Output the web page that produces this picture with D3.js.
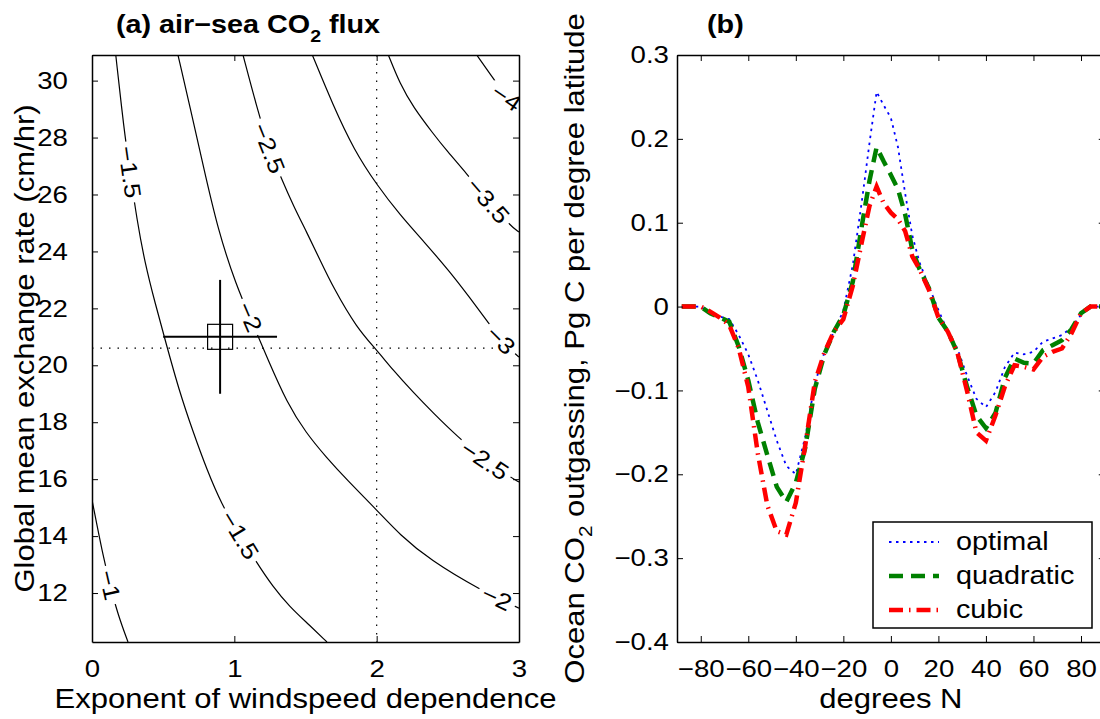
<!DOCTYPE html>
<html>
<head>
<meta charset="utf-8">
<script src="https://cdn.jsdelivr.net/npm/d3@7"></script>
<style>
  body { margin: 0; background: #fff; }
  svg text { font-family: "Liberation Sans", Arial, Helvetica, sans-serif; fill: #000; }
</style>
</head>
<body>
<svg id="fig" width="1100" height="719"></svg>
<script>
// ---- panel (a): contour lines traced as [exponent, exchange rate] pairs ----
const contourM1   = [[0,15.27],[0.035,14.39],[0.077,13.34],[0.126,12.28],[0.183,11.23],[0.253,10.28]];
const contourM15  = [[0.167,30.9],[0.225,28.27],[0.267,26.79],[0.316,25.1],[0.372,23.59],[0.443,22.19],[0.52,20.78],
                     [0.611,19.13],[0.71,17.66],[0.808,16.32],[0.913,15.09],[1.026,14.14],[1.145,13.16],[1.272,12.21],
                     [1.391,11.51],[1.511,10.95],[1.651,10.28]];
const contourM2   = [[0.604,30.9],[0.689,29.07],[0.78,27.04],[0.885,24.75],[1.012,22.82],[1.124,21.52],[1.237,20.19],
                     [1.37,18.68],[1.504,17.62],[1.644,16.78],[1.792,15.97],[2.0,14.92],[2.164,14.04],[2.375,13.16],
                     [2.726,12.11],[3.0,11.47]];
const contourM25  = [[1.061,30.9],[1.157,29.08],[1.244,27.63],[1.328,26.58],[1.419,25.56],[1.511,24.65],[1.602,23.7],
                     [1.693,22.75],[1.86,21.31],[2.0,20.54],[2.115,19.83],[2.255,19.06],[2.398,18.32],[2.562,17.52],
                     [2.761,16.67],[2.937,16.08],[3.0,15.9]];
const contourM3   = [[1.548,30.9],[1.693,29.14],[1.841,27.56],[2.002,26.33],[2.164,25.28],[2.34,24.3],[2.515,23.28],
                     [2.656,22.36],[2.782,21.52],[2.874,20.89],[2.958,20.47],[3.0,20.29]];
const contourM35  = [[2.082,30.9],[2.164,29.88],[2.258,29.06],[2.398,28.13],[2.492,27.54],[2.633,26.73],[2.784,25.79],
                     [2.937,24.91],[3.0,24.68]];
const contourM4   = [[2.703,30.9],[2.796,30.24],[2.914,29.41],[3.0,29.12]];

const contourLevels = [-1, -1.5, -2, -2.5, -3, -3.5, -4];
const contourPaths  = [contourM1, contourM15, contourM2, contourM25, contourM3, contourM35, contourM4];

// label positions: [level, exponent, exchange rate]
const contourLabels = [[-1,0.126,12.28],[-1.5,0.267,26.79],[-1.5,1.04,14.04],[-2,1.11,21.7],[-2,2.845,11.83],
                       [-2.5,1.244,27.63],[-2.5,2.761,16.67],[-3,2.874,20.89],[-3.5,2.784,25.79],[-4,2.914,29.41]];

const bestExponent = 0.9, bestRate = 21;
const exponentRange = [0.5, 1.3], rateRange = [19, 23];
const refExponent = 2, refRate = 20.6;

const xTicksA = [0, 1, 2, 3];
const yTicksA = [12, 14, 16, 18, 20, 22, 24, 26, 28, 30];

// ---- panel (b): ocean outgassing by latitude ----
const lat = [-88,-80,-76,-72,-68,-64,-60,-56,-52,-48,-44,-40,-36,-32,-28,-24,-20,-16,-12,-9,-6,-3,0,3,6,9,
             12,16,20,24,28,32,36,40,44,48,52,56,60,64,68,72,76,80,84,90];
const optimal   = [0,0,-0.008,-0.012,-0.015,-0.034,-0.057,-0.088,-0.124,-0.16,-0.19,-0.2,-0.155,-0.092,-0.055,-0.03,
                   -0.005,0.05,0.13,0.195,0.256,0.24,0.225,0.19,0.135,0.085,0.053,0.024,-0.004,-0.03,-0.05,-0.082,
                   -0.11,-0.12,-0.102,-0.072,-0.055,-0.057,-0.054,-0.042,-0.038,-0.034,-0.025,-0.01,0,0];
const quadratic = [0,0,-0.008,-0.013,-0.018,-0.048,-0.088,-0.138,-0.177,-0.215,-0.233,-0.21,-0.168,-0.098,-0.057,-0.03,
                   -0.01,0.03,0.1,0.15,0.19,0.173,0.157,0.14,0.11,0.068,0.045,0.022,-0.013,-0.03,-0.055,-0.095,
                   -0.13,-0.145,-0.127,-0.085,-0.062,-0.067,-0.068,-0.052,-0.046,-0.04,-0.027,-0.008,0,0];
const cubic     = [0,0,-0.006,-0.013,-0.022,-0.05,-0.096,-0.175,-0.237,-0.268,-0.272,-0.234,-0.165,-0.09,-0.055,-0.03,
                   -0.015,0.025,0.08,0.12,0.143,0.123,0.112,0.104,0.09,0.06,0.045,0.02,-0.013,-0.03,-0.055,-0.1,
                   -0.15,-0.16,-0.13,-0.095,-0.07,-0.072,-0.075,-0.06,-0.054,-0.05,-0.032,-0.008,0,0];
const seriesNames = ["optimal", "quadratic", "cubic"];

const xTicksB = [-80, -60, -40, -20, 0, 20, 40, 60, 80];
const yTicksB = [-0.4, -0.3, -0.2, -0.1, 0, 0.1, 0.2, 0.3];

// ---- drawing ----
const SX = 1.15; // horizontal stretch of the original figure's font
const svg = d3.select("#fig");

const A = {l: 92, r: 519, t: 55, b: 642};
const B = {l: 677, r: 1104.75, t: 55, b: 642};

const xA = d3.scaleLinear([0, 3], [A.l, A.r]);
const yA = d3.scaleLinear([10.28, 30.9], [A.b, A.t]);
const xB = d3.scaleLinear([-90, 90], [B.l, B.r]);
const yB = d3.scaleLinear([-0.4, 0.3], [B.b, B.t]);

function stretchedText(parent, x, y, rot) {
  return parent.append("g")
    .attr("transform", `translate(${x},${y})` + (rot ? ` rotate(${rot})` : "") + ` scale(${SX},1)`)
    .append("text");
}

function drawAxes(box, x, y, xt, yt, yPad, xFmt, yFmt) {
  const g = svg.append("g");
  const style = sel => {
    sel.attr("font-size", 24).attr("font-family", null);
    sel.select(".domain").attr("stroke-width", 1.5);
    sel.selectAll(".tick line").attr("stroke-width", 1);
    sel.selectAll(".tick text").attr("transform", `scale(${SX},1)`);
  };
  g.append("g").attr("transform", `translate(0,${box.b})`)
    .call(d3.axisBottom(x).tickValues(xt).tickSizeInner(-6).tickSizeOuter(0).tickPadding(18).tickFormat(xFmt))
    .call(style);
  g.append("g").attr("transform", `translate(0,${box.t})`)
    .call(d3.axisTop(x).tickValues(xt).tickSizeInner(-6).tickSizeOuter(0).tickFormat(""))
    .call(style);
  g.append("g").attr("transform", `translate(${box.l},0)`)
    .call(d3.axisLeft(y).tickValues(yt).tickSizeInner(-6).tickSizeOuter(0).tickPadding(yPad).tickFormat(yFmt))
    .call(style);
  g.append("g").attr("transform", `translate(${box.r},0)`)
    .call(d3.axisRight(y).tickValues(yt).tickSizeInner(-6).tickSizeOuter(0).tickFormat(""))
    .call(style);
}

// clip paths
const defs = svg.append("defs");
defs.append("clipPath").attr("id", "clipA").append("rect")
  .attr("x", A.l).attr("y", A.t).attr("width", A.r - A.l).attr("height", A.b - A.t);
defs.append("clipPath").attr("id", "clipB").append("rect")
  .attr("x", B.l).attr("y", B.t).attr("width", B.r - B.l).attr("height", B.b - B.t);

// ===== panel (a) =====
const pa = svg.append("g").attr("clip-path", "url(#clipA)");

// reference dotted lines
pa.append("line").attr("x1", xA(refExponent)).attr("x2", xA(refExponent))
  .attr("y1", A.t).attr("y2", A.b)
  .attr("stroke", "#000").attr("stroke-width", 1.2).attr("stroke-dasharray", "1.5,7");
pa.append("line").attr("x1", A.l).attr("x2", A.r)
  .attr("y1", yA(refRate)).attr("y2", yA(refRate))
  .attr("stroke", "#000").attr("stroke-width", 1.2).attr("stroke-dasharray", "1.5,7");

const contourLine = d3.line().x(d => xA(d[0])).y(d => yA(d[1])).curve(d3.curveBasis);
pa.selectAll(".contour")
  .data(contourPaths)
  .join("path")
  .attr("class", "contour")
  .attr("d", contourLine)
  .attr("fill", "none")
  .attr("stroke", "#000")
  .attr("stroke-width", 1.2);

// contour labels, oriented along the line
contourLabels.forEach(([lev, cx, cy]) => {
  const pts = contourPaths[contourLevels.indexOf(lev)].map(p => [xA(p[0]), yA(p[1])]);
  const px = xA(cx), py = yA(cy);
  let best = 0, bd = Infinity;
  for (let i = 0; i < pts.length - 1; i++) {
    const mx = (pts[i][0] + pts[i + 1][0]) / 2, my = (pts[i][1] + pts[i + 1][1]) / 2;
    const d = (mx - px) ** 2 + (my - py) ** 2;
    if (d < bd) { bd = d; best = i; }
  }
  let ang = Math.atan2(pts[best + 1][1] - pts[best][1], pts[best + 1][0] - pts[best][0]) * 180 / Math.PI;
  if (ang > 90) ang -= 180;
  if (ang < -90) ang += 180;
  const lg = pa.append("g")
    .attr("transform", `translate(${px},${py}) rotate(${ang}) scale(${SX},1)`);
  const t = lg.append("text")
    .attr("text-anchor", "middle")
    .attr("dy", "0.36em")
    .attr("font-size", 23)
    .text(String(lev).replace("-", "\u2212"));
  const bb = t.node().getBBox();
  lg.insert("rect", "text")
    .attr("x", bb.x - 4).attr("y", -8)
    .attr("width", bb.width + 8).attr("height", 16)
    .attr("fill", "#fff");
});

// best estimate with error bars
const est = svg.append("g");
est.append("line").attr("x1", xA(exponentRange[0])).attr("x2", xA(exponentRange[1]))
  .attr("y1", yA(bestRate)).attr("y2", yA(bestRate)).attr("stroke", "#000").attr("stroke-width", 2);
est.append("line").attr("x1", xA(bestExponent)).attr("x2", xA(bestExponent))
  .attr("y1", yA(rateRange[0])).attr("y2", yA(rateRange[1])).attr("stroke", "#000").attr("stroke-width", 2);
est.append("rect")
  .attr("x", xA(bestExponent) - 12.5).attr("y", yA(bestRate) - 12.5)
  .attr("width", 25).attr("height", 25)
  .attr("fill", "none").attr("stroke", "#000").attr("stroke-width", 1.2);

drawAxes(A, xA, yA, xTicksA, yTicksA, 21, d3.format("d"), d3.format("d"));

// ===== panel (b) =====
const pb = svg.append("g").attr("clip-path", "url(#clipB)");
const styles = [
  {color: "#0000ff", width: 1.8, dash: "2.5,4.5"},
  {color: "#008000", width: 4.5, dash: "14,8"},
  {color: "#ff0000", width: 4.5, dash: "14,6,1.5,6"}
];
const seriesData = [optimal, quadratic, cubic];
const fluxLine = d3.line().x((d, i) => xB(lat[i])).y(d => yB(d));
pb.selectAll(".flux")
  .data(seriesData)
  .join("path")
  .attr("class", "flux")
  .attr("d", fluxLine)
  .attr("fill", "none")
  .attr("stroke", (d, i) => styles[i].color)
  .attr("stroke-width", (d, i) => styles[i].width)
  .attr("stroke-dasharray", (d, i) => styles[i].dash);

drawAxes(B, xB, yB, xTicksB, yTicksB, 7, d3.format("d"), d => d === 0 ? "0" : d3.format(".1f")(d));

// legend
const leg = svg.append("g");
leg.append("rect").attr("x", 873).attr("y", 522).attr("width", 219).attr("height", 106)
  .attr("fill", "#fff").attr("stroke", "#000").attr("stroke-width", 1.5);
seriesNames.forEach((name, i) => {
  const ry = 542 + i * 34;
  leg.append("line").attr("x1", 889).attr("x2", 939).attr("y1", ry).attr("y2", ry)
    .attr("stroke", styles[i].color).attr("stroke-width", styles[i].width)
    .attr("stroke-dasharray", styles[i].dash);
  stretchedText(leg, 956, ry + 8).attr("font-size", 25).text(name);
});

// ===== titles and axis labels =====
const ta = stretchedText(svg, 116, 33).attr("font-size", 25).attr("font-weight", "bold");
ta.append("tspan").text("(a) air\u2212sea CO");
ta.append("tspan").attr("font-size", 17).attr("dy", 9).text("2");
ta.append("tspan").attr("dy", -9).text(" flux");

stretchedText(svg, 707, 33).attr("font-size", 25).attr("font-weight", "bold").text("(b)");

stretchedText(svg, (A.l + A.r) / 2, 708).attr("font-size", 27).attr("text-anchor", "middle")
  .text("Exponent of windspeed dependence");
stretchedText(svg, (B.l + B.r) / 2, 708).attr("font-size", 27).attr("text-anchor", "middle")
  .text("degrees N");
stretchedText(svg, 34, (A.t + A.b) / 2, -90).attr("font-size", 27).attr("text-anchor", "middle")
  .text("Global mean exchange rate (cm/hr)");
const yb = stretchedText(svg, 584, (B.t + B.b) / 2, -90).attr("font-size", 27).attr("text-anchor", "middle");
yb.append("tspan").text("Ocean CO");
yb.append("tspan").attr("font-size", 18).attr("dy", 8).text("2");
yb.append("tspan").attr("dy", -8).text(" outgassing, Pg C per degree latitude");
</script>
</body>
</html>
